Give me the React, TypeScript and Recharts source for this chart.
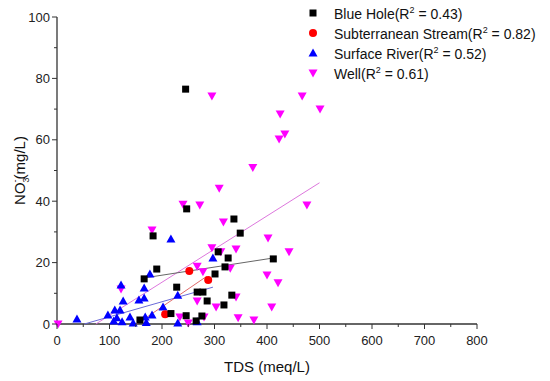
import { ScatterChart, Scatter, XAxis, YAxis, Label } from 'recharts'

// TDS (meq/L), NO3- (mg/L)
const blueHolePts = [
  [245, 76.5], [247, 37.5], [183, 28.7], [190, 17.9], [166, 14.7], [228, 12],
  [267, 10.4], [278, 10.4], [217, 3.4], [246, 2.7], [158, 1.3], [265, 1],
  [276, 2.6], [286, 7.5], [337, 34.2], [349, 29.6], [307, 23.5], [326, 21.5],
  [320, 18.6], [412, 21.2], [301, 16.3], [333, 9.4], [318, 6.2],
]
const streamPts = [[206, 3.2], [252, 17.3], [288, 14.3]]
const riverPts = [
  [38, 1.6], [97, 2.9], [110, 4.6], [120, 4.6], [114, 2], [124, 0.7], [139, 2.3],
  [145, 0.3], [122, 12.7], [126, 7.5], [156, 7.8], [166, 8.5], [166, 11.7],
  [177, 16.3], [168, 2.3], [181, 2.9], [202, 5.5], [230, 9.4], [217, 27.7],
  [230, 0.3], [267, 0.7], [297, 21.5], [108, 1], [170, 0.5],
]
const wellPts = [
  [2, 0], [295, 74.3], [467, 74.3], [501, 70], [425, 68.4], [434, 61.9],
  [423, 60.3], [373, 51], [476, 38.8], [442, 23.5], [309, 44.2], [240, 39],
  [272, 38.8], [181, 30.6], [317, 33.2], [402, 28], [295, 24.8], [312, 23.5],
  [341, 24.4], [267, 18.8], [330, 18.2], [278, 17], [400, 16], [421, 13.4],
  [122, 11.4], [341, 8.8], [267, 7.5], [303, 5.5], [409, 5.5], [280, 2.3],
  [345, 2], [375, 1.3], [250, 0.3], [234, 2.3],
]

// linear fit end points
const blueHoleFit = [[166, 15], [412, 21.5]]
const streamFit = [[152, 0], [285, 15.5]]
const riverFit = [[52, 0], [297, 12]]
const wellFit = [[74, 0], [500, 46]]

const xTicks = [0, 50, 100, 150, 200, 250, 300, 350, 400, 450, 500, 550, 600, 650, 700, 750, 800]
const yTicks = [0, 10, 20, 30, 40, 50, 60, 70, 80, 90, 100]

const toXY = (pts: number[][]) => pts.map(([x, y]) => ({ x, y }))

const axisColor = '#333'

function Square({ cx, cy }: any) {
  return <rect x={cx - 3.5} y={cy - 3.5} width={7} height={7} fill="#000" />
}
function Dot({ cx, cy }: any) {
  return <circle cx={cx} cy={cy} r={4} fill="#ff0000" />
}
function TriUp({ cx, cy }: any) {
  return <path d={`M${cx},${cy - 4.5}L${cx + 4.5},${cy + 3.5}L${cx - 4.5},${cy + 3.5}Z`} fill="#0000ff" />
}
function TriDown({ cx, cy }: any) {
  return <path d={`M${cx - 4.5},${cy - 3.5}L${cx + 4.5},${cy - 3.5}L${cx},${cy + 4.5}Z`} fill="#ff00ff" />
}
const NoShape = () => <g />

function XTick({ x, y, payload }: any) {
  const major = payload.value % 100 === 0
  return (
    <g>
      <line x1={x} x2={x} y1={y} y2={y + (major ? 5 : 3)} stroke={axisColor} />
      {major && (
        <text x={x} y={y + 21} textAnchor="middle" fontSize={13} fill="#222">
          {payload.value}
        </text>
      )}
    </g>
  )
}

function YTick({ x, y, payload }: any) {
  const major = payload.value % 20 === 0
  return (
    <g>
      <line x1={x} x2={x - (major ? 5 : 3)} y1={y} y2={y} stroke={axisColor} />
      {major && (
        <text x={x - 7} y={y + 4.5} textAnchor="end" fontSize={13} fill="#222">
          {payload.value}
        </text>
      )}
    </g>
  )
}

const legendItems = [
  { name: 'Blue Hole', r2: '0.43', Icon: Square },
  { name: 'Subterranean Stream', r2: '0.82', Icon: Dot },
  { name: 'Surface River', r2: '0.52', Icon: TriUp },
  { name: 'Well', r2: '0.61', Icon: TriDown },
]

function LegendBox() {
  return (
    <div style={{ position: 'absolute', left: 305, top: 3, fontSize: 14, color: '#111', fontFamily: 'Arial, "Liberation Sans", sans-serif' }}>
      {legendItems.map(({ name, r2, Icon }) => (
        <div key={name} style={{ display: 'flex', alignItems: 'center', height: 20 }}>
          <svg width={16} height={16} style={{ marginRight: 13 }}>
            <Icon cx={8} cy={8} />
          </svg>
          <span>
            {name}(R<sup style={{ fontSize: 9 }}>2</sup> = {r2})
          </span>
        </div>
      ))}
    </div>
  )
}

export default function App() {
  return (
    <div style={{ position: 'absolute', left: 0, top: 0, width: 550, height: 381, background: '#fff' }}>
      <ScatterChart
        width={550}
        height={381}
        margin={{ top: 17, right: 73, left: 0, bottom: 0 }}
        style={{ fontFamily: 'Arial, "Liberation Sans", sans-serif' }}
      >
        <XAxis
          type="number"
          dataKey="x"
          domain={[0, 800]}
          ticks={xTicks}
          interval={0}
          height={57}
          tickLine={false}
          tickSize={0}
          tickMargin={0}
          tick={<XTick />}
          axisLine={{ stroke: axisColor, strokeWidth: 1.3 }}
        >
          <Label
            content={({ viewBox }: any) => (
              <text
                x={viewBox.x + viewBox.width / 2}
                y={viewBox.y + 48}
                textAnchor="middle"
                fontSize={15}
                fill="#111"
              >
                TDS (meq/L)
              </text>
            )}
          />
        </XAxis>
        <YAxis
          type="number"
          dataKey="y"
          domain={[0, 100]}
          ticks={yTicks}
          interval={0}
          width={57}
          tickLine={false}
          tickSize={0}
          tickMargin={0}
          tick={<YTick />}
          axisLine={{ stroke: axisColor, strokeWidth: 1.3 }}
        >
          <Label
            content={({ viewBox }: any) => (
              <text
                transform={`translate(${viewBox.x + 25},${viewBox.y + viewBox.height / 2}) rotate(-90)`}
                textAnchor="middle"
                fontSize={15}
                fill="#111"
              >
                NO
                <tspan fontSize={9} dy={4}>3</tspan>
                <tspan fontSize={9} dx={-5} dy={-11}>-</tspan>
                <tspan dy={7}>(mg/L)</tspan>
              </text>
            )}
          />
        </YAxis>
        <Scatter data={toXY(wellFit)} line={{ stroke: '#dd77dd', strokeWidth: 1 }} shape={NoShape} legendType="none" isAnimationActive={false} />
        <Scatter data={toXY(riverFit)} line={{ stroke: '#6a6ad8', strokeWidth: 1 }} shape={NoShape} legendType="none" isAnimationActive={false} />
        <Scatter data={toXY(streamFit)} line={{ stroke: '#e06a6a', strokeWidth: 1 }} shape={NoShape} legendType="none" isAnimationActive={false} />
        <Scatter data={toXY(blueHoleFit)} line={{ stroke: '#666', strokeWidth: 1 }} shape={NoShape} legendType="none" isAnimationActive={false} />
        <Scatter name="Well" data={toXY(wellPts)} shape={TriDown} isAnimationActive={false} />
        <Scatter name="Surface River" data={toXY(riverPts)} shape={TriUp} isAnimationActive={false} />
        <Scatter name="Subterranean Stream" data={toXY(streamPts)} shape={Dot} isAnimationActive={false} />
        <Scatter name="Blue Hole" data={toXY(blueHolePts)} shape={Square} isAnimationActive={false} />
      </ScatterChart>
      <LegendBox />
    </div>
  )
}
